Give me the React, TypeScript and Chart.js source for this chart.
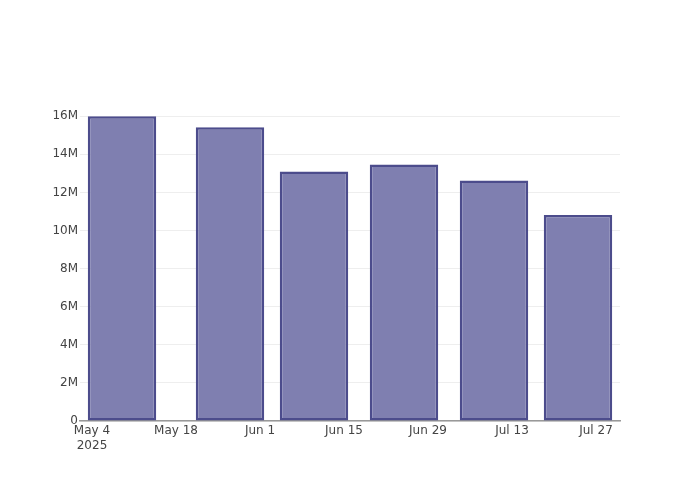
import React, { useEffect, useRef } from "react";
import { Chart, registerables } from "chart.js";

Chart.register(...registerables);

// Day offsets from May 4, 2025 (bar centre dates)
const barDays: number[] = [5, 23, 37, 52, 67, 81];
const barValues: number[] = [16.0e6, 15.42e6, 13.1e6, 13.47e6, 12.63e6, 10.82e6];
const xTickDays: number[] = [0, 14, 28, 42, 56, 70, 84];
const xTickLabels: (string | string[])[] = [["May 4", "2025"], "May 18", "Jun 1", "Jun 15", "Jun 29", "Jul 13", "Jul 27"];
const yTickValues: number[] = [0, 2e6, 4e6, 6e6, 8e6, 10e6, 12e6, 14e6, 16e6];
const yTickLabels: string[] = ["0", "2M", "4M", "6M", "8M", "10M", "12M", "14M", "16M"];

export default function App() {
  const ref = useRef<HTMLCanvasElement | null>(null);

  useEffect(() => {
    document.body.style.margin = "0";
    const canvas = ref.current;
    if (!canvas) return;
    const font = { family: "DejaVu Sans", size: 12 };
    const chart = new Chart(canvas, {
      type: "bar",
      data: {
        datasets: [
          {
            data: barDays.map((d, i) => ({ x: d, y: barValues[i] })),
            backgroundColor: "#7f7fb0",
            borderColor: "#4c4c8c",
            borderWidth: 2.5,
            borderSkipped: false,
            barPercentage: 0.815,
            categoryPercentage: 1,
          },
        ],
      },
      options: {
        animation: false,
        responsive: false,
        maintainAspectRatio: false,
        layout: { padding: { left: 0, right: 80, top: 101, bottom: 0 } },
        plugins: { legend: { display: false }, tooltip: { enabled: false } },
        scales: {
          x: {
            type: "linear",
            offset: false,
            min: -2,
            max: 88,
            grid: { display: false, drawTicks: false },
            border: { display: true, color: "#999", width: 1.5 },
            afterBuildTicks: (scale: any) => {
              scale.ticks = xTickDays.map((v) => ({ value: v }));
            },
            afterFit: (scale: any) => {
              scale.height = 79;
            },
            ticks: {
              autoSkip: false,
              maxRotation: 0,
              padding: 3,
              color: "#444",
              font,
              callback: (v: any) => {
                const i = xTickDays.indexOf(Number(v));
                return i >= 0 ? xTickLabels[i] : "";
              },
            },
          },
          y: {
            type: "linear",
            min: 0,
            max: 16.8e6,
            grid: { color: "#eee", lineWidth: 1, drawTicks: false },
            border: { display: false },
            afterBuildTicks: (scale: any) => {
              scale.ticks = yTickValues.map((v) => ({ value: v }));
            },
            afterFit: (scale: any) => {
              scale.width = 80;
            },
            ticks: {
              padding: 2,
              color: "#444",
              font,
              callback: (v: any) => {
                const i = yTickValues.indexOf(Number(v));
                return i >= 0 ? yTickLabels[i] : "";
              },
            },
          },
        },
      },
    } as any);
    return () => chart.destroy();
  }, []);

  return (
    <div style={{ position: "absolute", left: 0, top: 0, width: 700, height: 500, background: "#fff" }}>
      <canvas ref={ref} width={700} height={500} style={{ width: 700, height: 500 }} />
    </div>
  );
}
